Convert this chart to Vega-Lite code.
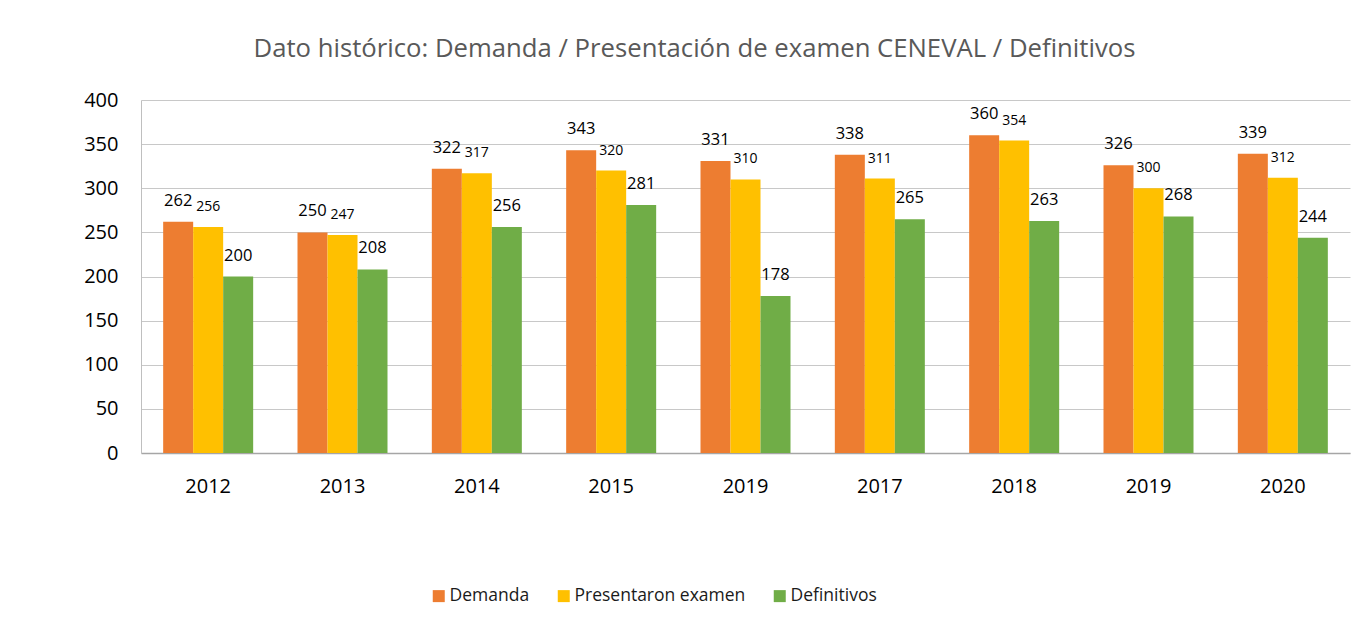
{
  "$schema": "https://vega.github.io/schema/vega-lite/v6.json",
  "width": 1209,
  "height": 353,
  "autosize": "none",
  "padding": {"left": 141, "top": 100, "right": 19, "bottom": 174},
  "background": "white",
  "title": {
    "text": "Dato histórico: Demanda / Presentación de examen CENEVAL / Definitivos",
    "font": "Open Sans",
    "fontSize": 25.7,
    "fontWeight": "normal",
    "color": "#595959",
    "anchor": "middle",
    "frame": "group",
    "dx": -51,
    "baseline": "alphabetic",
    "offset": 7
  },
  "config": {"view": {"stroke": null}},
  "data": {
    "values": [
      {"periodo": "2012", "serie": "Demanda", "valor": 262},
      {"periodo": "2012", "serie": "Presentaron examen", "valor": 256},
      {"periodo": "2012", "serie": "Definitivos", "valor": 200},
      {"periodo": "2013", "serie": "Demanda", "valor": 250},
      {"periodo": "2013", "serie": "Presentaron examen", "valor": 247},
      {"periodo": "2013", "serie": "Definitivos", "valor": 208},
      {"periodo": "2014", "serie": "Demanda", "valor": 322},
      {"periodo": "2014", "serie": "Presentaron examen", "valor": 317},
      {"periodo": "2014", "serie": "Definitivos", "valor": 256},
      {"periodo": "2015", "serie": "Demanda", "valor": 343},
      {"periodo": "2015", "serie": "Presentaron examen", "valor": 320},
      {"periodo": "2015", "serie": "Definitivos", "valor": 281},
      {"periodo": "2019", "serie": "Demanda", "valor": 331},
      {"periodo": "2019", "serie": "Presentaron examen", "valor": 310},
      {"periodo": "2019", "serie": "Definitivos", "valor": 178},
      {"periodo": "2017", "serie": "Demanda", "valor": 338},
      {"periodo": "2017", "serie": "Presentaron examen", "valor": 311},
      {"periodo": "2017", "serie": "Definitivos", "valor": 265},
      {"periodo": "2018", "serie": "Demanda", "valor": 360},
      {"periodo": "2018", "serie": "Presentaron examen", "valor": 354},
      {"periodo": "2018", "serie": "Definitivos", "valor": 263},
      {"periodo": "2019 ", "serie": "Demanda", "valor": 326},
      {"periodo": "2019 ", "serie": "Presentaron examen", "valor": 300},
      {"periodo": "2019 ", "serie": "Definitivos", "valor": 268},
      {"periodo": "2020", "serie": "Demanda", "valor": 339},
      {"periodo": "2020", "serie": "Presentaron examen", "valor": 312},
      {"periodo": "2020", "serie": "Definitivos", "valor": 244}
    ]
  },
  "encoding": {
    "x": {
      "field": "periodo",
      "type": "nominal",
      "sort": null,
      "scale": {"paddingInner": 0.33, "paddingOuter": 0.165},
      "axis": {
        "title": null,
        "ticks": false,
        "labelAngle": 0,
        "labelPadding": 23,
        "labelFont": "Open Sans",
        "labelFontSize": 20,
        "labelColor": "#000000",
        "domainColor": "#a6a6a6",
        "domainWidth": 1.5
      }
    },
    "xOffset": {
      "field": "serie",
      "type": "nominal",
      "scale": {"domain": ["Demanda", "Presentaron examen", "Definitivos"]}
    },
    "y": {
      "field": "valor",
      "type": "quantitative",
      "scale": {"domain": [0, 400]},
      "axis": {
        "title": null,
        "values": [0, 50, 100, 150, 200, 250, 300, 350, 400],
        "ticks": false,
        "labelPadding": 23,
        "labelFont": "Open Sans",
        "labelFontSize": 20,
        "labelColor": "#000000",
        "domainColor": "#bfbfbf",
        "gridColor": "#c8c8c8"
      }
    }
  },
  "layer": [
    {
      "mark": {"type": "bar"},
      "encoding": {
        "color": {
          "field": "serie",
          "type": "nominal",
          "scale": {
            "domain": ["Demanda", "Presentaron examen", "Definitivos"],
            "range": ["#ED7D31", "#FFC000", "#70AD47"]
          },
          "legend": {
            "orient": "none",
            "legendX": 289,
            "legendY": 487,
            "direction": "horizontal",
            "columns": 3,
            "title": null,
            "symbolType": "square",
            "symbolSize": 144,
            "symbolStrokeWidth": 0,
            "labelFont": "Open Sans",
            "labelFontSize": 17.5,
            "labelColor": "#1a1a1a",
            "labelLimit": 400,
            "columnPadding": 25,
            "labelOffset": 2
          }
        }
      }
    },
    {
      "mark": {"type": "text", "baseline": "alphabetic", "dy": -16, "font": "Open Sans", "color": "#000000"},
      "encoding": {
        "text": {"field": "valor", "type": "quantitative"},
        "size": {
          "condition": {"test": "datum.serie === 'Presentaron examen'", "value": 14},
          "value": 16.5
        }
      }
    }
  ]
}
